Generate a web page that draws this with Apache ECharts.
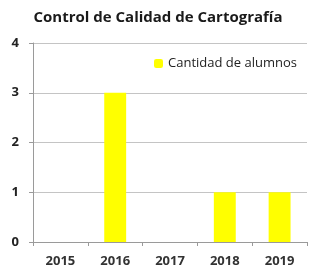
<!DOCTYPE html>
<html>
<head>
<meta charset="utf-8">
<script src="https://cdn.jsdelivr.net/npm/echarts@6/dist/echarts.min.js"></script>
<style>
html, body { margin: 0; padding: 0; background: #fff; }
#main { width: 316px; height: 272px; }
</style>
</head>
<body>
<div id="main"></div>
<script>
var years = ['2015', '2016', '2017', '2018', '2019'];
var alumnos = [0, 3, 0, 1, 1];
var yTicks = [0, 1, 2, 3, 4];

var myChart = echarts.init(document.getElementById('main'));
var options = {
    backgroundColor: '#fff',
    animation: false,
    title: {
        text: 'Control de Calidad de Cartografía',
        left: 'center',
        top: 5,
        textStyle: {
            fontFamily: 'Open Sans',
            fontSize: 15,
            fontWeight: 'bold',
            color: '#1a1a1a'
        }
    },
    legend: {
        data: ['Cantidad de alumnos'],
        left: 149,
        top: 52,
        itemWidth: 9,
        itemHeight: 9,
        itemGap: 4,
        textStyle: {
            fontFamily: 'Open Sans',
            fontSize: 13,
            color: '#222'
        }
    },
    grid: {
        left: 33,
        right: 9,
        top: 43,
        bottom: 30,
        containLabel: false
    },
    xAxis: {
        type: 'category',
        data: years,
        axisLine: { lineStyle: { color: '#9a9a9a', width: 1 } },
        axisTick: { show: true, length: 4, lineStyle: { color: '#9a9a9a' } },
        axisLabel: {
            fontFamily: 'Open Sans',
            fontSize: 13,
            fontWeight: 'bold',
            color: '#333',
            margin: 13
        }
    },
    yAxis: {
        type: 'value',
        min: 0,
        max: 4,
        interval: 1,
        axisLine: { show: true, lineStyle: { color: '#9a9a9a' } },
        axisTick: { show: true, length: 4, lineStyle: { color: '#9a9a9a' } },
        splitLine: { lineStyle: { color: '#c4c4c4', width: 1 } },
        axisLabel: {
            fontFamily: 'Open Sans',
            fontSize: 13,
            fontWeight: 'bold',
            color: '#222',
            margin: 14,
            formatter: function (v) { return yTicks.indexOf(v) >= 0 ? String(v) : ''; }
        }
    },
    series: [{
        name: 'Cantidad de alumnos',
        type: 'bar',
        data: alumnos,
        barWidth: '40%',
        itemStyle: { color: '#ffff00' }
    }]
};
myChart.setOption(options);
</script>
</body>
</html>
